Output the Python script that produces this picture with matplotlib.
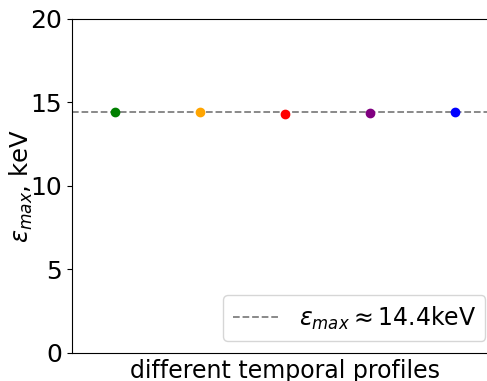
import numpy as np
import matplotlib
matplotlib.use("Agg")
import matplotlib.pyplot as plt

# max photon energy for each temporal profile
profiles = [1, 2, 3, 4, 5]
eps_max = [14.4, 14.4, 14.3, 14.35, 14.4]
colors = ["green", "orange", "red", "purple", "blue"]
eps_mean = 14.4

fig = plt.figure(figsize=(4.87, 3.81), dpi=100)
ax = fig.add_axes([0.148, 0.0735, 0.873, 0.877])

ax.axhline(eps_mean, color="gray", linestyle="--", linewidth=1.3,
           label=r"$\varepsilon_{max} \approx$14.4keV")
for x, y, c in zip(profiles, eps_max, colors):
    ax.plot(x, y, "o", color=c, markersize=6)

ax.set_xlim(0.5, 5.5)
ax.set_ylim(0, 20)
ax.set_yticks([0, 5, 10, 15, 20])
ax.set_xticks([])
ax.tick_params(labelsize=18)
ax.set_xlabel("different temporal profiles", fontsize=17)
ax.set_ylabel(r"$\varepsilon_{max}$, keV", fontsize=17.5, labelpad=-3)
ax.legend(loc="lower right", fontsize=17)

fig.savefig("out.png", dpi=100)
